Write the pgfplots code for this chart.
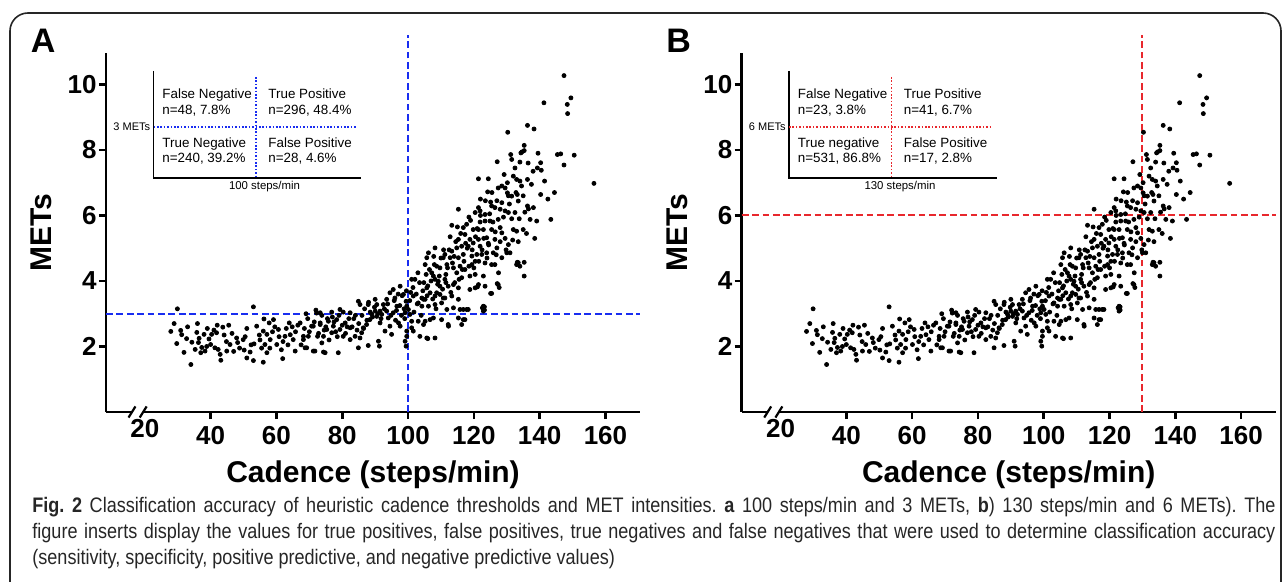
\documentclass[border=0pt]{standalone}
\usepackage{fontspec}
\setmainfont{Liberation Sans}
\newfontfamily\capfont[FakeStretch=0.86]{Liberation Sans}
\usepackage{pgfplots}
\usepackage{pgfplotstable}
\pgfplotsset{compat=1.18}

\definecolor{thrblue}{RGB}{25,45,240}
\definecolor{thrred}{RGB}{232,40,45}

% cadence (steps/min) vs METs (same data in both panels)
\pgfplotstableread{
x y
29.9 3.15
28.9 2.70
27.9 2.46
30.9 2.49
31.2 2.36
29.7 2.09
31.9 1.82
34.0 1.45
32.7 2.24
34.3 2.13
35.8 2.43
36.3 2.12
37.3 1.97
38.0 2.37
39.5 2.23
40.3 2.37
42.0 2.65
43.7 2.59
44.1 2.35
41.8 2.42
40.0 2.06
38.3 1.86
37.0 1.81
35.3 1.91
41.3 1.96
42.3 1.91
42.9 1.76
43.1 1.58
44.9 1.86
45.9 2.06
47.9 2.26
48.2 2.12
49.9 2.21
51.0 2.55
53.0 3.21
50.2 1.89
51.0 1.65
53.0 1.57
52.0 1.83
53.2 2.08
54.0 2.62
56.0 1.52
57.1 1.81
56.5 2.06
56.0 2.47
57.1 2.37
56.2 2.84
57.8 2.72
59.1 2.82
58.1 2.21
60.1 2.06
60.6 2.52
61.9 1.63
62.6 2.31
63.9 2.72
64.2 2.36
65.1 2.21
65.7 1.86
67.2 2.72
68.2 2.31
68.7 1.96
69.0 3.00
70.7 2.62
71.2 1.86
72.2 3.02
72.5 2.31
73.3 2.67
74.3 1.83
73.8 2.11
72.0 3.11
73.3 3.03
76.8 3.05
79.3 3.13
80.3 3.05
82.4 3.03
84.9 3.38
85.4 3.28
87.9 3.28
90.0 3.44
90.5 3.28
92.5 3.28
93.5 3.44
94.5 3.64
95.5 3.74
96.0 3.48
97.6 3.84
98.6 3.59
99.4 3.38
99.6 3.23
100.1 3.13
99.1 3.03
100.6 2.98
101.6 3.54
102.1 4.05
101.1 4.05
103.1 3.33
104.2 3.48
105.2 3.44
106.2 3.23
105.2 4.50
105.7 4.71
106.2 4.86
108.2 5.01
107.2 4.25
108.2 4.05
109.7 3.84
108.7 3.64
110.7 3.48
111.8 3.13
110.2 2.82
107.7 2.87
105.7 2.26
108.2 2.26
103.6 2.31
101.6 2.47
101.1 2.77
103.1 2.77
99.6 2.31
99.1 2.16
99.4 2.01
97.6 2.62
97.1 2.72
94.5 2.62
95.0 2.37
93.0 2.47
91.5 2.72
90.5 2.92
88.4 2.82
87.4 2.67
86.4 2.57
85.9 2.42
85.4 2.26
83.9 2.31
84.9 1.96
87.9 2.03
91.0 2.16
91.3 2.01
82.4 2.57
80.9 2.72
79.3 2.52
77.3 2.62
76.8 2.42
75.3 2.52
74.3 2.31
73.3 2.72
71.2 2.62
69.7 2.31
68.2 2.21
69.2 1.96
71.7 1.86
74.8 1.81
78.8 1.81
82.4 2.21
80.3 2.31
78.3 2.82
75.8 2.77
89.0 2.98
92.0 2.98
93.5 3.08
94.0 2.87
95.5 3.03
96.6 3.23
91.5 3.08
90.0 3.08
135.3 8.14
134.6 7.94
131.2 7.86
131.5 7.71
134.0 7.63
127.1 7.64
121.4 7.12
124.4 7.12
124.2 6.72
127.4 6.84
129.2 7.25
130.2 7.00
129.5 6.84
130.2 6.69
132.0 7.20
133.0 7.10
134.0 7.05
136.3 7.10
131.5 6.59
133.2 6.64
133.5 6.44
128.5 6.39
125.1 6.41
125.4 6.29
126.4 6.24
128.0 6.19
129.5 6.14
130.5 6.09
132.5 6.09
136.3 6.29
136.6 6.20
138.1 6.24
137.1 5.88
139.1 5.83
121.4 6.24
120.4 6.09
121.9 6.14
123.4 6.03
115.3 6.19
123.4 5.83
124.9 5.83
127.4 5.88
121.9 5.80
117.8 5.73
116.8 5.63
119.8 5.57
121.4 5.57
122.9 5.57
125.4 5.57
128.0 5.63
128.5 5.47
132.0 5.57
133.0 5.52
135.0 5.57
113.3 5.70
117.3 5.42
115.3 5.27
118.8 5.27
121.4 5.27
123.9 5.32
126.4 5.27
124.4 5.15
121.9 5.06
119.8 5.16
118.3 5.06
116.3 5.06
114.8 5.01
111.2 4.81
113.3 4.91
110.7 4.71
112.8 4.71
115.3 4.71
116.8 4.81
119.4 4.76
120.9 4.81
122.4 4.81
123.9 4.86
125.9 4.86
127.0 5.01
130.5 5.11
130.0 4.86
131.0 4.86
128.5 4.71
119.4 4.50
120.4 4.60
123.4 4.55
125.4 4.50
126.4 4.50
108.7 4.45
109.7 4.40
111.8 4.50
113.8 4.40
115.8 4.45
117.3 4.35
114.8 4.25
116.3 4.10
118.8 4.15
120.4 4.20
122.9 4.15
107.7 4.15
109.2 3.99
111.2 4.05
112.2 3.84
113.8 3.89
115.3 3.79
121.4 3.89
120.4 3.79
118.8 3.74
123.4 3.84
127.4 3.89
127.7 3.80
125.1 3.62
133.0 4.50
134.0 4.45
135.3 4.57
135.3 4.15
105.7 3.79
106.7 3.64
108.2 3.54
109.7 3.59
111.2 3.48
113.3 3.54
115.3 3.44
113.8 3.18
116.8 3.13
118.3 3.13
122.9 3.23
123.1 3.13
110.2 3.33
108.2 3.28
104.7 3.44
104.2 3.23
112.2 2.67
116.3 2.67
105.2 2.77
117.3 2.82
147.4 10.27
149.5 9.59
148.4 9.39
148.5 9.11
141.3 9.44
136.3 8.75
138.3 8.64
130.3 8.54
135.3 7.98
134.3 7.91
140.3 7.61
139.3 7.45
140.5 7.38
145.4 7.86
146.4 7.88
150.5 7.84
147.4 7.54
156.5 6.98
140.3 6.64
143.4 5.88
133.2 4.57
125.4 3.62
123.2 3.21
123.2 3.11
127.1 3.92
121.1 3.82
115.8 3.13
99.6 2.47
101.1 2.57
106.0 2.24
104.7 2.67
106.7 2.82
112.3 2.62
115.3 2.87
116.8 2.82
122.9 3.08
122.6 3.18
117.8 3.13
133.5 4.56
33.0 2.60
36.5 2.25
38.8 2.00
41.0 2.50
44.8 2.15
46.5 2.40
48.8 1.95
50.5 2.30
52.3 2.05
54.8 2.35
55.5 1.95
58.8 2.45
59.5 2.60
60.8 2.30
61.5 1.90
63.0 2.55
63.5 2.05
65.8 2.45
66.5 2.65
67.5 2.05
68.5 2.55
69.5 2.85
70.0 2.45
71.5 2.75
72.8 2.40
73.8 2.95
74.5 2.50
75.5 2.85
76.0 2.20
77.5 2.75
78.0 2.45
79.0 2.95
80.0 2.65
81.0 2.40
82.0 2.85
83.0 2.60
84.0 2.95
85.0 2.70
86.0 2.95
86.8 3.15
87.5 2.80
88.5 3.05
89.2 2.90
89.8 3.20
90.8 3.00
91.8 2.85
92.8 3.15
93.8 3.30
94.8 2.95
95.8 3.40
96.5 3.10
97.5 3.25
98.2 3.55
99.0 2.85
99.5 3.70
100.5 3.40
101.5 3.80
102.5 3.60
103.5 3.95
104.5 3.70
105.5 4.20
106.0 3.85
107.0 4.00
108.0 4.50
109.0 3.90
110.0 4.70
111.5 4.20
112.5 4.95
113.5 4.55
114.5 5.20
115.5 4.05
116.0 5.45
117.0 4.60
118.0 5.00
119.0 5.85
120.0 4.40
121.0 5.60
122.0 6.00
122.5 4.95
123.5 6.45
124.5 5.10
125.5 6.70
126.5 5.50
127.5 4.25
128.5 6.90
129.5 5.30
130.5 6.60
131.5 5.90
132.5 7.45
133.5 5.20
134.5 6.90
135.5 6.10
136.5 7.60
138.5 5.30
139.5 7.90
142.5 6.50
96.2 2.80
97.0 3.60
98.0 2.95
98.8 3.15
100.8 3.65
101.8 3.05
102.8 3.30
103.0 4.25
104.0 2.95
104.8 3.95
105.8 3.55
106.5 4.35
107.5 3.45
107.8 4.75
108.5 3.15
109.5 4.15
110.5 3.75
110.8 4.95
111.5 3.95
112.0 4.40
112.8 5.35
113.0 3.65
114.0 4.75
114.2 3.95
115.0 5.65
116.5 4.35
117.5 5.15
118.5 4.45
118.5 5.95
119.5 4.95
120.5 5.35
121.5 4.60
122.0 6.50
123.0 5.30
124.0 4.70
124.8 6.05
125.8 5.80
126.8 4.80
127.0 6.45
128.0 5.20
129.0 5.95
129.8 4.95
130.8 6.35
131.8 5.25
132.8 6.70
133.8 5.90
135.0 6.60
136.0 5.45
137.5 6.95
138.0 7.35
141.5 7.05
144.5 6.70
88.0 3.35
86.5 2.55
84.5 2.50
83.5 2.85
81.5 2.60
78.5 2.30
77.0 2.90
75.0 2.60
64.8 2.60
62.0 2.15
58.0 1.95
55.0 2.20
47.0 1.85
45.5 2.65
39.0 2.55
36.0 2.70
}\metdata

\tikzset{thr/.style={line width=1pt, dash pattern=on 3.4pt off 1.8pt}}

\pgfplotsset{
  metpanel/.style={
    scale only axis, width=267pt, height=179.5pt,
    xmin=8.2, xmax=170.5, ymin=0, ymax=10.96,
    axis x line=bottom, axis y line=left,
    axis line style={-, line width=1.3pt},
    tick align=outside, major tick length=3.5pt,
    tick style={line width=1.3pt, black},
    xtick={40,60,...,160}, ytick={2,4,...,10},
    extra x ticks={20}, extra x tick style={major tick length=0pt},
    /pgf/number format/assume math mode=true,
    tick label style={font=\fontsize{13}{13}\selectfont\bfseries},
    x tick label style={inner sep=1pt, yshift=-2.5pt},
    y tick label style={inner sep=1pt},
    xlabel={Cadence (steps/min)}, ylabel={METs},
    label style={font=\fontsize{15}{15}\selectfont\bfseries},
    xlabel style={at={(rel axis cs:0.5,0)}, anchor=base, yshift=-35pt},
    ylabel style={at={(rel axis cs:0,0.5)}, anchor=base, yshift=27pt},
    clip=false,
  },
}

\newcommand\axisbreak{%
  \fill[white] (axis cs:16.1,-0.1) rectangle (axis cs:19.5,0.1);
  \draw[line width=1.1pt] (axis cs:15.05,-0.17) -- (axis cs:17.15,0.17);
  \draw[line width=1.1pt] (axis cs:18.45,-0.17) -- (axis cs:20.55,0.17);
}

\begin{document}
\frenchspacing
\begin{tikzpicture}
\begin{scope}[x=0.5pt, y=-0.5pt]
  \useasboundingbox (0,0) rectangle (1283,582);
  \draw[line width=0.8pt, black!85, rounded corners=9pt] (10,13) rectangle (1281,620);
\end{scope}

% panel A
\begin{axis}[metpanel, at={(53pt,-206pt)}, anchor=south west]
  \addplot[only marks, mark=*, mark size=1pt, black] table[x=x, y=y] {\metdata};
  \axisbreak
  \draw[thr, thrblue] (axis cs:100,0) -- (axis cs:100,11.5);
  \draw[thr, thrblue] (axis cs:8.2,3) -- (axis cs:170.5,3);
\end{axis}

% panel B
\begin{axis}[metpanel, at={(370.85pt,-206pt)}, anchor=south west]
  \addplot[only marks, mark=*, mark size=1pt, black] table[x=x, y=y] {\metdata};
  \axisbreak
  \draw[thr, thrred] (axis cs:130,0) -- (axis cs:130,11.5);
  \draw[thr, thrred] (axis cs:8.2,6) -- (axis cs:170.5,6);
\end{axis}

\begin{scope}[x=0.5pt, y=-0.5pt]
  \node[anchor=base west, inner sep=0, font=\fontsize{17}{17}\selectfont\bfseries] at (30.5,53) {A};
  \node[anchor=base west, inner sep=0, font=\fontsize{17}{17}\selectfont\bfseries] at (666,53) {B};

  % inset A
  \draw[line width=0.8pt] (153.5,71) -- (153.5,178) -- (361,178);
  \draw[thrblue, line width=0.8pt, dash pattern=on 0.8pt off 0.9pt] (256,77) -- (256,178);
  \draw[thrblue, line width=0.8pt, dash pattern=on 0.8pt off 0.9pt] (153.5,127) -- (357,127);
  \begin{scope}[every node/.style={anchor=base west, inner sep=0, font=\fontsize{6.7}{6.7}\selectfont}]
    \node at (162,99) {False Negative};
    \node at (162,115) {n=48, 7.8\%};
    \node at (268,99) {True Positive};
    \node at (268,115) {n=296, 48.4\%};
    \node at (162,148) {True Negative};
    \node at (162,163) {n=240, 39.2\%};
    \node at (268,148) {False Positive};
    \node at (268,163) {n=28, 4.6\%};
  \end{scope}
  \node[anchor=east, inner sep=0, font=\fontsize{5.5}{5.5}\selectfont] at (150.5,127) {3 METs};
  \node[anchor=base, inner sep=0, font=\fontsize{5.7}{5.7}\selectfont] at (264.5,190) {100 steps/min};

  % inset B
  \begin{scope}[shift={(635.5,0)}]
    \draw[line width=0.8pt] (153.5,71) -- (153.5,178) -- (361,178);
    \draw[thrred, line width=0.8pt, dash pattern=on 0.8pt off 0.9pt] (256,77) -- (256,178);
    \draw[thrred, line width=0.8pt, dash pattern=on 0.8pt off 0.9pt] (153.5,127) -- (357,127);
    \begin{scope}[every node/.style={anchor=base west, inner sep=0, font=\fontsize{6.7}{6.7}\selectfont}]
      \node at (162,99) {False Negative};
      \node at (162,115) {n=23, 3.8\%};
      \node at (268,99) {True Positive};
      \node at (268,115) {n=41, 6.7\%};
      \node at (162,148) {True negative};
      \node at (162,163) {n=531, 86.8\%};
      \node at (268,148) {False Positive};
      \node at (268,163) {n=17, 2.8\%};
    \end{scope}
    \node[anchor=east, inner sep=0, font=\fontsize{5.5}{5.5}\selectfont] at (150.5,127) {6 METs};
    \node[anchor=base, inner sep=0, font=\fontsize{5.7}{5.7}\selectfont] at (264.5,190) {130 steps/min};
  \end{scope}

  % caption
  \begin{scope}[every node/.style={anchor=base west, inner sep=0, text=black!85, font=\capfont\fontsize{10.5}{12}\selectfont}]
    \node at (32,512) {\makebox[621.5pt][s]{\textbf{Fig. 2} Classification accuracy of heuristic cadence thresholds and MET intensities. \textbf{a} 100 steps/min and 3 METs, \textbf{b}) 130 steps/min and 6 METs). The}};
    \node at (32,538) {\makebox[621.5pt][s]{figure inserts display the values for true positives, false positives, true negatives and false negatives that were used to determine classification accuracy}};
    \node at (32,564) {(sensitivity, specificity, positive predictive, and negative predictive values)};
  \end{scope}
\end{scope}
\end{tikzpicture}
\end{document}
